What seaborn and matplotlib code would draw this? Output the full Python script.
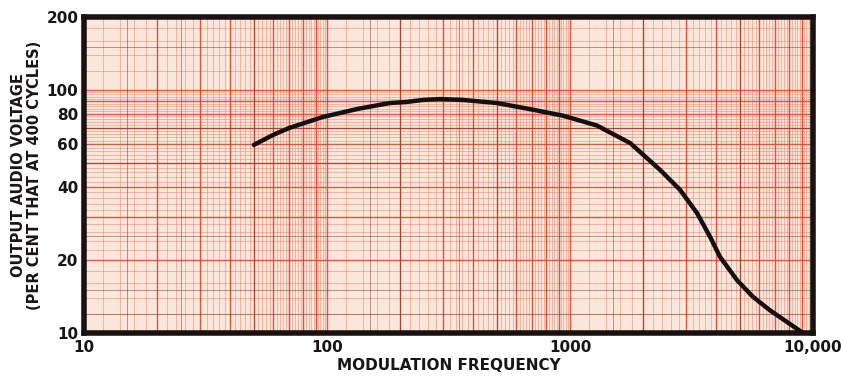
import numpy as np
import seaborn as sns
import matplotlib.pyplot as plt
from matplotlib.ticker import LogLocator, NullFormatter, FixedLocator

# values (Hz, per cent of 400-cycle output)
freq = [50, 60, 70, 83, 96, 113, 133, 155, 182, 213, 248, 292, 363, 500,
        685, 935, 1290, 1770, 2350, 2840, 3330, 3770, 4140, 4870,
        5660, 6650, 7820, 9100]
volt = [59.5, 65.4, 69.9, 73.9, 77.5, 80.5, 83.6, 86.0, 88.5, 89.4, 91.1,
        91.9, 91.1, 88.5, 83.5, 78.5, 71.5, 60.5, 46.9, 38.8, 31.2,
        24.9, 20.6, 16.5, 14.1, 12.4, 11.1, 10.0]

x_ticks = [10, 100, 1000, 10000]
x_labels = ["10", "100", "1000", "10,000"]
y_ticks = [10, 20, 40, 60, 80, 100, 200]
y_labels = ["10", "20", "40", "60", "80", "100", "200"]


def main():
    sns.set_theme(style="white")
    plt.rcParams['font.family'] = ['DejaVu Sans']

    fig = plt.figure(figsize=(8.41, 3.84), dpi=100)
    ax = fig.add_axes([0.0999, 0.1328, 0.8668, 0.8229])
    ax.set_facecolor("#fbe6dc")

    ax.set_xscale("log")
    ax.set_yscale("log")
    ax.set_xlim(10, 10000)
    ax.set_ylim(10, 200)

    # graph paper texture
    fine = np.arange(1, 10, 0.2)
    ax.xaxis.set_minor_locator(LogLocator(base=10, subs=fine, numticks=100))
    ax.yaxis.set_minor_locator(LogLocator(base=10, subs=fine, numticks=100))
    ax.xaxis.set_minor_formatter(NullFormatter())
    ax.yaxis.set_minor_formatter(NullFormatter())
    ax.grid(which="minor", color="#e8876c", linewidth=0.5, alpha=0.75)
    for d in [10, 100, 1000]:
        for k in range(1, 10):
            ax.axvline(d * k, color="#d4452a", linewidth=1.0, alpha=0.85, zorder=1)
    for d in [10, 100]:
        for k in range(1, 10):
            ax.axhline(d * k, color="#d4452a", linewidth=1.0, alpha=0.85, zorder=1)
    for v in [15, 25, 50, 150, 200, 350, 500, 1500, 2000, 5000]:
        ax.axvline(v, color="#6b3a2e", linewidth=0.7, alpha=0.5, zorder=1)
    for v in [12, 15, 25, 50, 70, 150]:
        ax.axhline(v, color="#6b3a2e", linewidth=0.7, alpha=0.5, zorder=1)

    sns.lineplot(x=freq, y=volt, ax=ax, color="#151010", linewidth=3.2,
                 zorder=5, sort=True)

    ax.xaxis.set_major_locator(FixedLocator(x_ticks))
    ax.set_xticklabels(x_labels)
    ax.yaxis.set_major_locator(FixedLocator(y_ticks))
    ax.set_yticklabels(y_labels)
    ax.tick_params(which="both", length=0)
    ax.tick_params(axis="x", pad=5, labelsize=11)
    ax.tick_params(axis="y", pad=4, labelsize=11)
    for lab in ax.get_xticklabels() + ax.get_yticklabels():
        lab.set_fontweight("bold")
        lab.set_color("#1a1414")

    for s in ax.spines.values():
        s.set_visible(True)
        s.set_linewidth(4)
        s.set_color("#1a1210")

    ax.set_xlabel("MODULATION FREQUENCY", fontsize=11, fontweight="bold",
                  color="#1a1414", labelpad=2)
    ax.set_ylabel("OUTPUT AUDIO VOLTAGE\n(PER CENT THAT AT 400 CYCLES)",
                  fontsize=10.5, fontweight="bold", color="#1a1414",
                  labelpad=3, linespacing=1.1)

    fig.savefig("out.png", dpi=100)


if __name__ == "__main__":
    main()
